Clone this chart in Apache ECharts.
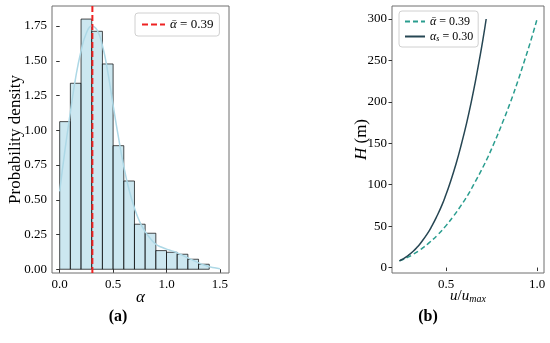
<!DOCTYPE html>
<html><head><meta charset="utf-8">
<script src="https://cdn.jsdelivr.net/npm/echarts@6/dist/echarts.min.js"></script>
<style>html,body{margin:0;padding:0;background:#fff}#c{width:550px;height:343px}</style>
</head><body><div id="c"></div>
<script>
// ---- Panel (a): histogram of alpha ----
const binEdges = [0.0,0.1,0.2,0.3,0.4,0.5,0.6,0.7,0.8,0.9,1.0,1.1,1.2,1.3,1.4];
const density  = [1.062,1.338,1.800,1.712,1.477,0.889,0.635,0.324,0.259,0.134,0.122,0.108,0.072,0.036];
const kdeX = [0.0,0.05,0.1,0.15,0.2,0.25,0.3,0.35,0.4,0.45,0.5,0.55,0.6,0.65,0.7,0.75,0.8,0.85,0.9,0.95,1.0,1.05,1.1,1.15,1.2,1.25,1.3,1.35,1.4,1.45,1.5];
const kdeY = [0.56,0.86,1.13,1.38,1.57,1.70,1.75,1.72,1.61,1.42,1.18,0.95,0.74,0.57,0.44,0.34,0.27,0.22,0.18,0.16,0.145,0.132,0.118,0.10,0.082,0.064,0.046,0.03,0.019,0.01,0.004];
const meanLineX = 0.306;
const ticksA_x = [0.0,0.5,1.0,1.5];
const ticksA_y = [0.0,0.25,0.5,0.75,1.0,1.25,1.5,1.75];
// ---- Panel (b): wind profiles ----
const heightH = [8,10,12.5,15,20,25,30,40,50,62.5,75,87.5,100,125,150,175,200,225,250,275,300];
const uMean   = [0.243,0.265,0.290,0.311,0.348,0.379,0.407,0.456,0.497,0.542,0.582,0.619,0.651,0.711,0.763,0.810,0.854,0.894,0.931,0.967,1.0];
const uS      = [0.243,0.260,0.278,0.293,0.320,0.342,0.361,0.394,0.421,0.450,0.476,0.498,0.518,0.554,0.585,0.613,0.638,0.661,0.682,0.702,0.720];
const ticksB_x = [0.5,1.0];
const ticksB_y = [0,50,100,150,200,250,300];

const FONT = 'Liberation Serif';
const yA = {min:-0.027, max:1.894};
const richCommon = {
  i:{fontStyle:'italic', fontFamily:FONT},
  sub:{fontSize:9, fontFamily:FONT, fontStyle:'italic', verticalAlign:'bottom', lineHeight:9}
};
function axisCommon(ticks, fmt){
  return {
    nameMoveOverlap:false,
    axisLine:{show:false},
    splitLine:{show:false},
    axisTick:{show:true, inside:false, length:3.5, lineStyle:{color:'#333', width:1}, customValues:ticks},
    axisLabel:{customValues:ticks, formatter:fmt, color:'#000', fontFamily:FONT, fontSize:13, margin:5}
  };
}
const chart = echarts.init(document.getElementById('c'), null, {renderer:'canvas'});
const legendNames = {meanA:'{i|ᾱ} = 0.39', meanB:'{i|ᾱ} = 0.39', alphaS:'{i|α}{sub|s} = 0.30'};
chart.setOption({
  animation:false,
  backgroundColor:'#fff',
  textStyle:{fontFamily:FONT},
  grid:[
    {left:52, top:6, width:177, height:267, show:true, borderColor:'#6e6e6e', borderWidth:1, backgroundColor:'transparent'},
    {left:392, top:6, width:152, height:267, show:true, borderColor:'#6e6e6e', borderWidth:1, backgroundColor:'transparent'}
  ],
  xAxis:[
    Object.assign({type:'value', gridIndex:0, min:-0.072, max:1.585,
      name:'{i|α}', nameLocation:'middle', nameGap:16,
      nameTextStyle:{fontFamily:FONT, fontSize:17, color:'#000', rich:richCommon}}, axisCommon(ticksA_x, v=>v.toFixed(1))),
    Object.assign({type:'value', gridIndex:1, min:0.202, max:1.038,
      name:'{i|u}/{i|u}{sub|max}', nameLocation:'middle', nameGap:16,
      nameTextStyle:{fontFamily:FONT, fontSize:15, color:'#000', rich:{i:{fontStyle:'italic',fontFamily:FONT,fontSize:15}, sub:{fontSize:10,fontStyle:'italic',fontFamily:FONT,verticalAlign:'bottom',lineHeight:10}}}}, axisCommon(ticksB_x, v=>v.toFixed(1)))
  ],
  yAxis:[
    Object.assign({type:'value', gridIndex:0, min:yA.min, max:yA.max,
      name:'Probability density', nameLocation:'middle', nameGap:28, nameRotate:90,
      nameTextStyle:{fontFamily:FONT, fontSize:17, color:'#000'}}, axisCommon(ticksA_y, v=>v.toFixed(2))),
    Object.assign({type:'value', gridIndex:1, min:-6.6, max:315.7,
      name:'{i|H} (m)', nameLocation:'middle', nameGap:22, nameRotate:90,
      nameTextStyle:{fontFamily:FONT, fontSize:17, color:'#000', rich:{i:{fontStyle:'italic',fontFamily:FONT,fontSize:17}}}}, axisCommon(ticksB_y, v=>String(v)))
  ],
  legend:[
    {data:['meanA'], left:135, top:13, orient:'vertical', padding:[5,6,5,6], itemWidth:23, itemHeight:10,
     borderColor:'#d0d0d0', borderWidth:1, borderRadius:3, backgroundColor:'rgba(255,255,255,0.8)',
     itemStyle:{opacity:0},
     formatter:n=>legendNames[n],
     textStyle:{fontFamily:FONT, fontSize:13, color:'#000', rich:richCommon}},
    {data:['meanB','alphaS'], left:399, top:11, orient:'vertical', padding:[4,5,4,5], itemGap:2, itemWidth:20, itemHeight:10,
     borderColor:'#d0d0d0', borderWidth:1, borderRadius:3, backgroundColor:'rgba(255,255,255,0.8)',
     itemStyle:{opacity:0},
     formatter:n=>legendNames[n],
     textStyle:{fontFamily:FONT, fontSize:12, color:'#000', lineHeight:13, rich:{i:{fontStyle:'italic',fontFamily:FONT,fontSize:12}, sub:{fontSize:8,fontStyle:'italic',fontFamily:FONT,verticalAlign:'bottom',lineHeight:8}}}}
  ],
  title:[
    {text:'(a)', left:113, top:304, textAlign:'center', textStyle:{fontFamily:FONT, fontSize:16, fontWeight:'bold', color:'#000'}},
    {text:'(b)', left:423, top:304, textAlign:'center', textStyle:{fontFamily:FONT, fontSize:16, fontWeight:'bold', color:'#000'}}
  ],
  series:[
    {type:'custom', xAxisIndex:0, yAxisIndex:0, silent:true,
     data: density.map((d,i)=>[binEdges[i], binEdges[i]+(binEdges[1]-binEdges[0]), d]),
     encode:{x:[0,1], y:2},
     renderItem:(params, api)=>{
       const p0 = api.coord([api.value(0), api.value(2)]);
       const p1 = api.coord([api.value(1), 0]);
       return {type:'rect', shape:{x:p0[0], y:p0[1], width:p1[0]-p0[0], height:p1[1]-p0[1]},
               style:{fill:'rgba(173,216,230,0.62)', stroke:'rgba(0,0,0,0.7)', lineWidth:1}};
     }, z:2},
    {type:'line', xAxisIndex:0, yAxisIndex:0, data:kdeX.map((x,i)=>[x,kdeY[i]]), smooth:true, symbol:'none',
     lineStyle:{color:'#add8e6', width:1.5}, z:3, silent:true},
    {name:'meanA', type:'line', xAxisIndex:0, yAxisIndex:0, data:[[meanLineX, yA.min],[meanLineX, yA.max]], symbol:'none',
     color:'#ee2222', lineStyle:{color:'#ee2222', width:2, type:[6,3]}, z:4, silent:true},
    {name:'meanB', type:'line', xAxisIndex:1, yAxisIndex:1, data:uMean.map((u,i)=>[u,heightH[i]]), smooth:true, symbol:'none',
     color:'#2a9d8f', lineStyle:{color:'#2a9d8f', width:1.5, type:[5,3]}, silent:true},
    {name:'alphaS', type:'line', xAxisIndex:1, yAxisIndex:1, data:uS.map((u,i)=>[u,heightH[i]]), smooth:true, symbol:'none',
     color:'#264653', lineStyle:{color:'#264653', width:1.5}, silent:true}
  ]
});
</script></body></html>
